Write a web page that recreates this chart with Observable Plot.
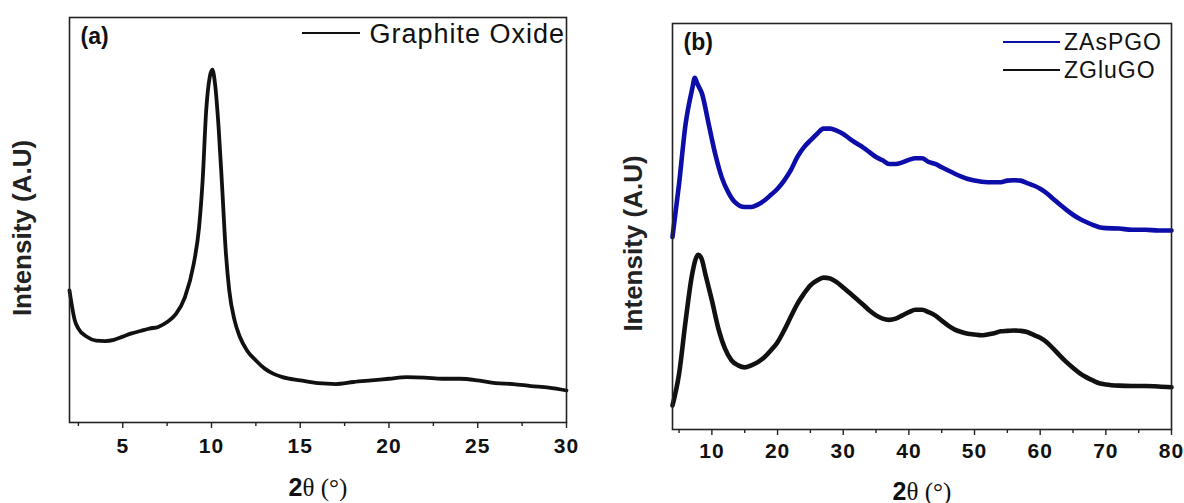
<!DOCTYPE html>
<html>
<head>
<meta charset="utf-8">
<script src="https://cdn.jsdelivr.net/npm/d3@7"></script>
<script src="https://cdn.jsdelivr.net/npm/@observablehq/plot@0.6"></script>
<style>
  body { margin: 0; background: #fff; }
  #wrap { position: relative; width: 1184px; height: 503px; overflow: hidden; font-family: "Liberation Sans", Arial, sans-serif; }
  .panel { position: absolute; top: 0; }
  .leg-line { position: absolute; height: 2px; }
  .leg-text { position: absolute; color: #111; white-space: nowrap; }
</style>
</head>
<body>
<div id="wrap">
  <div class="panel" id="pa" style="left:0"></div>
  <div class="panel" id="pb" style="left:592px"></div>
</div>
<script>
// ---------- Data ----------
// Panel (a): Graphite Oxide
const goTheta = [2,2.3,2.5,3,3.5,4,4.5,5,5.5,6,6.5,7,7.5,8,8.5,9,9.3,9.5,9.7,9.9,10.05,10.2,10.4,10.6,10.8,11,11.3,11.6,12,12.5,13,13.5,14,15,16,17,18,19,20,21,22,23,24,25,26,27,28,29,30];
const goIntensity = [32.6,25.2,23.2,21.1,20.2,20.1,20.4,21.2,22.0,22.6,23.2,23.6,24.8,26.8,30.9,39.2,48.2,59.7,77,85.3,87.1,83.6,72.9,58.1,42.5,32.6,25.2,21.1,17.8,15.3,13.3,12.0,11.2,10.4,9.7,9.5,10.0,10.4,10.8,11.2,11.1,10.8,10.8,10.4,9.7,9.5,9.0,8.6,7.9];

// Panel (b): ZAsPGO (blue)
const zaspTheta = [4,5,6,7,7.4,7.8,8.5,9.5,10.5,11.5,12.5,13.5,15,16,17,18,19,20,21,22,23,24,25,26,27,28,29,30,31,32,33,34,35,36,37,38,39,40,41,42,43,44,45,46,47,48,49,50,52,54,55,56,57,58,59,60,61,62,63,64,65,66,67,68,69,70,72,74,76,78,80];
const zaspIntensity = [47.4,60.5,75.3,83.9,86.6,85.1,82.7,75.3,67.9,62.1,58.4,56.0,54.8,54.8,55.4,56.4,57.8,59.3,61.3,63.8,67.1,69.5,71.2,72.8,74.1,74.1,73.6,72.8,71.6,70.5,69.5,68.3,67.1,66.3,65.4,65.4,65.8,66.4,66.8,66.8,65.9,65.4,64.6,63.8,63.0,62.3,61.7,61.3,60.9,60.9,61.3,61.4,61.3,60.7,60.1,59.3,58.2,56.8,55.4,54.1,52.9,51.9,51.1,50.4,49.8,49.6,49.5,49.2,49.2,49.0,49.0];

// Panel (b): ZGluGO (black)
const zgluTheta = [4,5,6,7,7.9,8.4,9,10,11,12,13,14,15,16,17,18,19,20,21,22,23,24,25,26,27,28,29,30,31,32,33,34,35,36,37,38,39,40,41,42,43,44,45,46,47,48,49,50,51,52,53,54,55,56,57,58,59,60,61,62,63,64,65,66,67,68,69,70,72,74,76,78,80];
const zgluIntensity = [5.9,13.7,26.8,38.3,43.0,42.2,38.3,31.8,24.8,19.9,17.0,15.8,15.3,15.8,16.6,17.8,19.5,21.5,24.4,27.7,30.9,33.4,35.5,36.7,37.4,37.2,36.3,35.0,33.6,32.2,30.8,29.3,28.1,27.3,27.0,27.3,28.1,28.9,29.5,29.5,28.9,28.1,26.8,25.6,24.6,24.0,23.6,23.4,23.2,23.4,23.7,24.2,24.3,24.4,24.3,24.0,23.3,22.6,21.5,19.9,18.2,16.6,15.2,13.9,12.9,12.1,11.4,11.1,10.8,10.7,10.7,10.6,10.4];

// Axis ticks
const aMajorTicks = [5,10,15,20,25,30];
const aMinorTicks = [2.5,7.5,12.5,17.5,22.5,27.5];
const bMajorTicks = [10,20,30,40,50,60,70,80];
const bMinorTicks = [5,15,25,35,45,55,65,75];

// Labels
const xLabelText = "2θ (°)";
const yLabelText = "Intensity (A.U)";
const seriesNames = {go: "Graphite Oxide", zasp: "ZAsPGO", zglu: "ZGluGO"};
const colors = {go: "#111111", zasp: "#0d0daa", zglu: "#111111"};

const zip = (xs, ys) => xs.map((x, i) => ({x, y: ys[i]}));
const SANS = "Liberation Sans, Arial, sans-serif";

function panel({width, height, margins, domain, major, minor, series, tag, tickFont, tickPad, yDx, yDy, xDy}) {
  return Plot.plot({
    width, height,
    marginLeft: margins[0], marginRight: margins[1], marginTop: margins[2], marginBottom: margins[3],
    style: {fontFamily: SANS, background: "transparent", overflow: "visible"},
    x: {domain, axis: null},
    y: {domain: [0, 100], axis: null},
    marks: [
      ...series.map(s => Plot.line(s.data, {x: "x", y: "y", stroke: s.color, strokeWidth: s.width, curve: "monotone-x"})),
      Plot.frame({stroke: "#222", strokeWidth: 1.6}),
      Plot.axisX({ticks: major, tickFormat: d => String(d), tickSize: 6, tickPadding: tickPad, label: null,
                  fontSize: tickFont, fontWeight: "bold", stroke: "#222", strokeWidth: 1.4, fill: "#111",
                  className: "majorticks"}),
      Plot.axisX({ticks: minor, tickFormat: () => "", tickSize: 4, label: null, stroke: "#222", strokeWidth: 1.4}),
      Plot.text([tag], {frameAnchor: "top-left", text: d => d, dx: 11, dy: 19, fontSize: 23, fontWeight: "bold",
                        textAnchor: "start", lineAnchor: "middle", fill: "#111"}),
      Plot.text([yLabelText], {frameAnchor: "left", text: d => d, rotate: -90, dx: yDx, dy: yDy, fontSize: 26,
                               fontWeight: "bold", textAnchor: "middle", lineAnchor: "middle", fill: "#222"}),
      Plot.text([xLabelText], {frameAnchor: "bottom", text: d => d, dy: xDy, fontSize: 25, textAnchor: "middle",
                               lineAnchor: "middle", fill: "#111", className: "xlab"})
    ]
  });
}

function fixXLabel(svg) {
  d3.select(svg).selectAll(".xlab text").each(function() {
    const t = d3.select(this);
    t.text(null);
    t.append("tspan").attr("font-family", SANS).attr("font-weight", "bold").attr("font-size", 25).text("2");
    t.append("tspan").attr("font-family", "Liberation Serif, Times New Roman, serif").attr("font-size", 25).text("θ (°)");
  });
  d3.select(svg).selectAll(".majorticks text").attr("letter-spacing", "1px");
}

const svgA = panel({
  width: 592, height: 503, margins: [69, 26, 17, 81], domain: [2, 30],
  major: aMajorTicks, minor: aMinorTicks, tag: "(a)", tickFont: 21, tickPad: 10,
  yDx: -47, yDy: 8, xDy: 65,
  series: [{data: zip(goTheta, goIntensity), color: colors.go, width: 3.8}]
});
fixXLabel(svgA);
document.getElementById("pa").appendChild(svgA);

const svgB = panel({
  width: 592, height: 503, margins: [80, 13, 23, 74], domain: [4, 80],
  major: bMajorTicks, minor: bMinorTicks, tag: "(b)", tickFont: 21, tickPad: 8,
  yDx: -39, yDy: 17, xDy: 62,
  series: [
    {data: zip(zaspTheta, zaspIntensity), color: colors.zasp, width: 4.6},
    {data: zip(zgluTheta, zgluIntensity), color: colors.zglu, width: 4.6}
  ]
});
fixXLabel(svgB);
document.getElementById("pb").appendChild(svgB);

// Legends (overlaid inside the frames)
const wrap = document.getElementById("wrap");
function legendEntry(lineLeft, lineWidth, lineTop, color, text, textLeft, textRight, textTop, fontSize) {
  const l = document.createElement("div");
  l.className = "leg-line";
  Object.assign(l.style, {left: lineLeft + "px", top: lineTop + "px", width: lineWidth + "px", background: color});
  wrap.appendChild(l);
  const s = document.createElement("div");
  s.className = "leg-text";
  s.textContent = text;
  Object.assign(s.style, {top: textTop + "px", fontSize: fontSize + "px", lineHeight: fontSize + "px", letterSpacing: "1px"});
  if (textLeft != null) s.style.left = textLeft + "px"; else s.style.right = textRight + "px";
  wrap.appendChild(s);
}
legendEntry(302, 58, 32, colors.go, seriesNames.go, null, 619, 21, 27);
legendEntry(1003, 57, 41, colors.zasp, seriesNames.zasp, 1064, null, 31, 23);
legendEntry(1003, 57, 69, colors.zglu, seriesNames.zglu, 1064, null, 59, 23);
</script>
</body>
</html>
